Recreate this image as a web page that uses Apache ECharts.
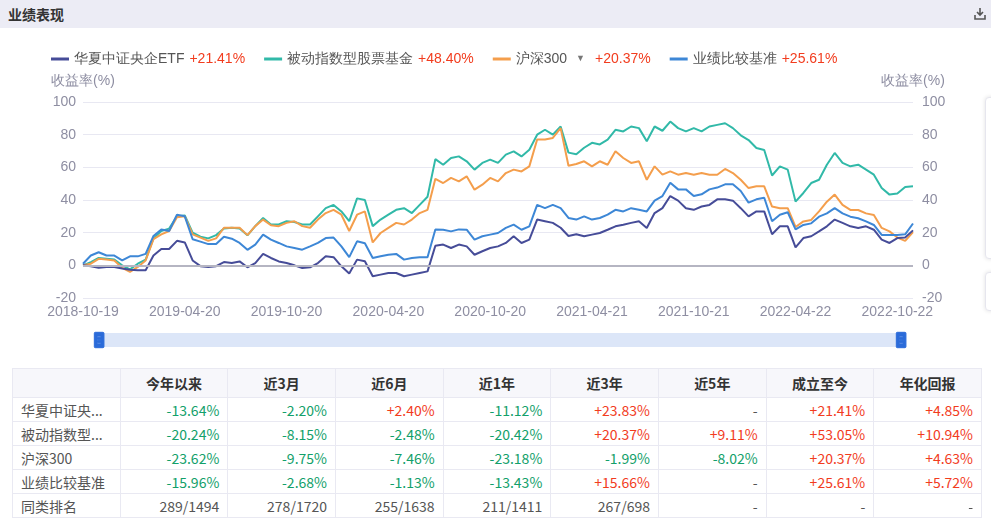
<!DOCTYPE html>
<html>
<head>
<meta charset="utf-8">
<script src="https://cdn.jsdelivr.net/npm/echarts@6/dist/echarts.min.js"></script>
<style>
  html, body { margin: 0; padding: 0; background: #fff; font-family: "Noto Sans CJK SC", "Noto Sans", sans-serif; }
  .page { position: relative; width: 991px; height: 523px; overflow: hidden; }
  .bar { position: absolute; left: 0; top: 0; width: 991px; height: 28px; background: #ececf5; }
  .bar h3 { margin: 0; position: absolute; left: 8px; top: 4px; font-size: 14px; line-height: 20px; font-weight: bold; color: #333; }
  .bar svg { position: absolute; left: 974px; top: 7px; }
  #chart { position: absolute; left: 0; top: 28px; width: 991px; height: 332px; }
  .side { position: absolute; left: 985px; width: 20px; background: #fff; border: 1px solid #e6e6ee; border-radius: 4px; box-shadow: 0 0 4px rgba(0,0,0,0.12); }
  table { position: absolute; left: 12px; top: 368px; width: 970px; border-collapse: collapse; table-layout: fixed; font-size: 14px; color: #555; }
  th, td { border: 1px solid #e9e9f2; height: 23px; padding: 0 8px; text-align: right; white-space: nowrap; overflow: hidden; }
  th { background: #f7f7fb; font-weight: bold; color: #333; text-align: center; height: 28px; }
  td:first-child { text-align: left; }
  .up { color: #f23c1e; }
  .dn { color: #12a06a; }
</style>
</head>
<body>
<div class="page">
  <div class="bar">
    <h3>业绩表现</h3>
    <svg width="12" height="13" viewBox="0 0 12 13"><path d="M6 1 V8 M3 5 L6 8 L9 5 M1 8 V12 H11 V8" fill="none" stroke="#555" stroke-width="1.6"/></svg>
  </div>
  <div id="chart"></div>
  <div class="side" style="top:97px;height:160px"></div>
  <div class="side" style="top:272px;height:37px"></div>
  <table id="tbl"><thead></thead><tbody></tbody></table>
</div>
<script>
// performance curves (return %, evenly spaced samples)
const TICK_LABELS = ["2018-10-19", "2019-04-20", "2019-10-20", "2020-04-20", "2020-10-20",
  "2021-04-21", "2021-10-21", "2022-04-22", "2022-10-22"];
const NAMES = ["华夏中证央企ETF", "被动指数型股票基金", "沪深300", "业绩比较基准"];
const TOTALS = ["+21.41%", "+48.40%", "+20.37%", "+25.61%"];
const COLORS = ["#464c98", "#31b9a8", "#f49e4c", "#3d87d6"];

const etf = [0, -0.5, -1.5, -1, -1, -2, -2.7, -3, -3, 6, 10, 10, 15, 14, 3, -0.5, -1, -0.5, 2, 1.4,
  2.4, -1.2, 1.4, 7, 4.5, 2.4, 1.4, 0, -1.6, -1.2, 1.4, 5.5, 5, -0.6, -5, 3.5, 2.5, -6.7, -5.7, -4.7,
  -4.7, -6.7, -5.7, -4.7, -3.7, 12, 12.7, 10.6, 12.7, 11.6, 6.5, 8.6, 10.6, 11.6, 13.7, 17.8, 13.7, 15.7, 28, 27,
  26, 23, 18, 19, 17.8, 18.8, 19.8, 21.8, 23.9, 24.9, 26, 27, 22.9, 32, 35, 42.4, 39.6, 35, 34, 36,
  37, 40.4, 40.4, 39.6, 35, 30, 33, 33, 19, 23.9, 23.9, 11, 16.7, 17.8, 20.8, 23.9, 28, 26, 23.9, 22.9,
  23.9, 21.8, 15.7, 13.7, 16.7, 17, 21.41];
const passive = [0, 2, 4.5, 4, 3.5, 0, -2.5, 1, 3.5, 16.5, 21, 22.5, 30, 30.5, 20, 17.5, 16.5, 18.5, 22.5, 23,
  22.5, 18.4, 24, 29, 25, 25, 27, 26.5, 25, 25, 30, 35, 37, 33, 27, 41, 40, 24, 28, 31,
  34, 35, 32, 37, 42, 65, 61.6, 65.7, 66.7, 63.7, 58.6, 62.7, 64.7, 62.7, 67.8, 69.8, 66.7, 70.8, 80, 83,
  80, 85, 69, 68, 72, 75, 74, 77, 83, 82, 85, 84, 76, 85, 82.4, 88, 84, 82, 84, 82,
  85, 86, 87, 84, 79.6, 76.7, 71.8, 70.6, 55, 60.6, 58.6, 39, 44.3, 50.4, 52.4, 61.6, 68.8, 62.7, 60.6, 61.6,
  58.6, 55.5, 47.3, 43.3, 44, 48, 48.4];
const hs300 = [0, 1, 4, 3.5, 3, -1.5, -4, -1, 3, 16, 19, 21, 29.5, 30, 19, 17, 15, 16.5, 23, 23,
  23, 18.5, 24, 28, 24.5, 24, 26, 27, 24, 23, 28, 32, 34, 31, 21, 31, 33, 14, 19.8, 22.9,
  26, 25, 28, 32, 34, 53, 50.4, 53.5, 51.4, 54.5, 46.3, 49.4, 53.5, 51.4, 56.5, 58.6, 57.5, 60.6, 77, 77,
  78, 84, 61, 62, 63.7, 60.6, 63.7, 61.6, 69.8, 65.7, 62.7, 63.7, 52.4, 60.6, 55.5, 57.5, 55.5, 56.5, 55.5, 56.5,
  55.5, 55.5, 59, 56.5, 52.4, 47.3, 48.4, 48.4, 36, 35, 35, 23.5, 26.9, 27.8, 33, 39, 43.3, 37, 33.9, 33.9,
  31.8, 30.8, 22.9, 20.8, 17, 15, 20.37];
const bench = [1, 6, 8, 6, 6, 3, 5.5, 5.5, 7, 18, 22, 21, 31, 30, 16, 14.5, 13, 13, 17.5, 16.3,
  13.7, 9.5, 12.7, 18.8, 15.7, 13.7, 11.6, 10.6, 9.6, 11.6, 13.7, 16.7, 17, 11.6, 5, 14.7, 13.5, 4.5, 5.5, 6.5,
  7, 3.5, 4.5, 5, 5, 22, 21.8, 20.8, 22, 21.8, 15.7, 17.8, 18.8, 19.8, 22.9, 24.9, 21.8, 23.9, 37, 35,
  37, 35, 29, 28, 30, 28, 29, 31, 34, 33, 35, 34, 33, 39.6, 42.4, 50.6, 46.5, 46.5, 42.4, 43.5,
  46.5, 47.6, 49.6, 49.6, 45.5, 38.4, 40.4, 41.4, 27, 31, 32.5, 22, 24.7, 25.7, 29.8, 31.8, 35, 31.8, 29.8, 28.8,
  26.9, 24.7, 18.6, 18.6, 18.6, 19, 25.61];

// summary table
const COLS = ["", "今年以来", "近3月", "近6月", "近1年", "近3年", "近5年", "成立至今", "年化回报"];
const ROW_NAMES = ["华夏中证央...", "被动指数型...", "沪深300", "业绩比较基准", "同类排名"];
const ROWS = [
  ["-13.64%", "-2.20%", "+2.40%", "-11.12%", "+23.83%", "-", "+21.41%", "+4.85%"],
  ["-20.24%", "-8.15%", "-2.48%", "-20.42%", "+20.37%", "+9.11%", "+53.05%", "+10.94%"],
  ["-23.62%", "-9.75%", "-7.46%", "-23.18%", "-1.99%", "-8.02%", "+20.37%", "+4.63%"],
  ["-15.96%", "-2.68%", "-1.13%", "-13.43%", "+15.66%", "-", "+25.61%", "+5.72%"],
  ["289/1494", "278/1720", "255/1638", "211/1411", "267/698", "-", "-", "-"],
];

document.querySelector("#tbl thead").innerHTML = "<tr>" + COLS.map((c) => `<th>${c}</th>`).join("") + "</tr>";
document.querySelector("#tbl tbody").innerHTML = ROWS.map((r, i) =>
  `<tr><td>${ROW_NAMES[i]}</td>` + r.map((v) => {
    const cls = v[0] === "+" ? "up" : (v[0] === "-" && v.length > 1 ? "dn" : "");
    return `<td class="${cls}">${v}</td>`;
  }).join("") + "</tr>").join("");

const SERIES = [etf, passive, hs300, bench];
const cats = etf.map((_, i) => i);
const AX = "#8e8ea2";

const chart = echarts.init(document.getElementById("chart"));
chart.setOption({
  animation: false,
  color: COLORS,
  legend: {
    left: 46, top: 19, itemWidth: 18, itemHeight: 3, itemGap: 19, icon: "rect",
    data: NAMES,
    formatter: (name) => {
      const i = NAMES.indexOf(name);
      return `{n|${name}}` + (i === 2 ? "{t|▼}" : "") + `{v|${TOTALS[i]}}`;
    },
    textStyle: {
      fontSize: 14,
      rich: {
        n: { fontSize: 14, color: "#555" },
        t: { fontSize: 9, color: "#777", padding: [0, 5, 0, 9] },
        v: { fontSize: 14, color: "#f23c1e", padding: [0, 0, 0, 5] },
      },
    },
  },
  grid: { left: 83, right: 78, top: 74, bottom: 62 },
  xAxis: {
    type: "category", data: cats, boundaryGap: false,
    axisLine: { show: false }, axisTick: { show: false },
    axisLabel: { interval: 12, margin: 7, color: AX, fontSize: 14, formatter: (v, idx) => TICK_LABELS[idx / 13] || "" },
  },
  yAxis: [0, 1].map((k) => ({
    type: "value", min: -20, max: 100, interval: 20, position: k ? "right" : "left",
    name: "收益率(%)", nameGap: 14,
    nameTextStyle: { color: AX, fontSize: 14 },
    axisLine: { show: false }, axisTick: { show: false },
    axisLabel: { color: AX, fontSize: 14, margin: k ? 9 : 7 },
    splitLine: { show: k === 0, lineStyle: { color: "#e8e8f2" } },
  })),
  dataZoom: [{
    type: "slider", left: 97, right: 90, top: 305, height: 14, start: 0, end: 100,
    showDetail: false, showDataShadow: false, brushSelect: false, moveHandleSize: 0,
    borderColor: "transparent", backgroundColor: "#dce6f8", fillerColor: "#dce6f8",
    handleIcon: "path://M1,0 H9 Q10,0 10,1 V15 Q10,16 9,16 H1 Q0,16 0,15 V1 Q0,0 1,0 Z M3,4 V5.2 H7 V4 Z M3,7.4 V8.6 H7 V7.4 Z M3,10.8 V12 H7 V10.8 Z",
    handleSize: "110%", handleStyle: { color: "#2b6bd9", borderColor: "#2b6bd9" },
  }],
  series: SERIES.map((d, i) => ({
    name: NAMES[i], type: "line", data: d, showSymbol: false, symbol: "none",
    lineStyle: { width: 2 }, z: i === 0 ? 4 : 3,
    markLine: i === 0 ? {
      silent: true, symbol: "none", label: { show: false },
      lineStyle: { color: "#b5b5c2", width: 2, type: "solid" }, data: [{ yAxis: 0 }],
    } : undefined,
  })),
});
</script>
</body>
</html>
